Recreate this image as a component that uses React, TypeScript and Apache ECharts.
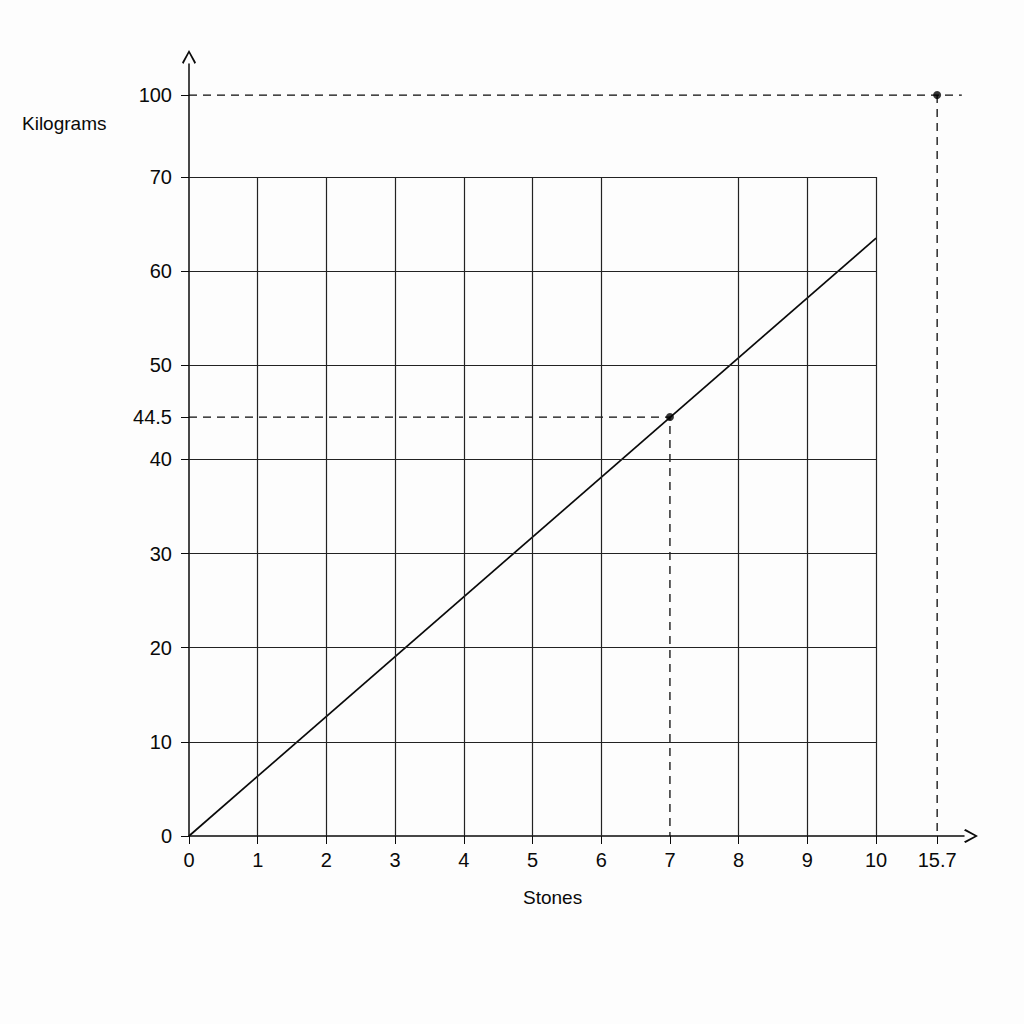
import { useEffect, useRef } from 'react';
import * as echarts from 'echarts';

// conversion line, stones -> kilograms
const STONES = [0, 10];
const KILOGRAMS = [0, 63.5];

// read-off points
const POINTS: [number, number][] = [
  [7, 44.5],
  [15.7, 100],
];

// tick labels
const X_TICKS = [0, 1, 2, 3, 4, 5, 6, 7, 8, 9, 10, 15.7];
const Y_TICKS = [0, 10, 20, 30, 40, 44.5, 50, 60, 70, 100];

// grid lines inside the box
const X_GRID = [1, 2, 3, 4, 5, 6, 8, 9, 10];
const Y_GRID = [10, 20, 30, 40, 50, 60, 70];

// end of the dashed 100 kg guide (in stones)
const GUIDE_END = 18;

// broken axes: values past the box are squeezed
const X_BREAK = 10;
const Y_BREAK = 70;
const X_SQUEEZE = 0.156;
const Y_SQUEEZE = 0.29;

const xPos = (v: number) => (v <= X_BREAK ? v : X_BREAK + (v - X_BREAK) * X_SQUEEZE);
const yPos = (v: number) => (v <= Y_BREAK ? v : Y_BREAK + (v - Y_BREAK) * Y_SQUEEZE);
const pt = (x: number, y: number) => [xPos(x), yPos(y)];

const INK = '#0a0a0a';
const FONT = "'Liberation Sans', Arial, sans-serif";
const ARROW = 'path://M5,0 L10,9 L9,10 L5,2.4 L1,10 L0,9 Z';

const xLabelPos = X_TICKS.map(xPos);
const yLabelPos = Y_TICKS.map(yPos);
const labelFor = (ticks: number[], pos: number[]) => (v: number) => {
  const i = pos.findIndex((p) => Math.abs(p - v) < 1e-6);
  return i >= 0 ? String(ticks[i]) : '';
};

function buildOption(): echarts.EChartsOption {
  const [xMin, xMax] = [0, X_BREAK];
  const [yMin, yMax] = [0, Y_BREAK];
  const gridLines = [
    ...X_GRID.map((x) => [{ coord: pt(x, yMin) }, { coord: pt(x, yMax) }]),
    ...Y_GRID.map((y) => [{ coord: pt(xMin, y) }, { coord: pt(xMax, y) }]),
  ];
  const [p1, p2] = POINTS;
  const dashed = { color: INK, width: 1.3, type: [8, 6] as number[] };
  return {
    animation: false,
    backgroundColor: '#fdfdfd',
    textStyle: { fontFamily: FONT },
    grid: { left: 189, right: 60, top: 64, bottom: 188 },
    xAxis: {
      type: 'value',
      min: 0,
      max: 11.28,
      splitLine: { show: false },
      axisLine: { lineStyle: { color: INK, width: 1.5 }, symbol: ['none', ARROW], symbolSize: [14, 15], symbolOffset: [0, 7] },
      axisTick: { show: true, inside: false, length: 8, customValues: xLabelPos, lineStyle: { color: INK } },
      axisLabel: { customValues: xLabelPos, formatter: labelFor(X_TICKS, xLabelPos), color: INK, fontSize: 20, margin: 14, fontFamily: FONT },
    },
    yAxis: {
      type: 'value',
      min: 0,
      max: 82,
      splitLine: { show: false },
      axisLine: { lineStyle: { color: INK, width: 1.5 }, symbol: ['none', ARROW], symbolSize: [14, 15], symbolOffset: [0, 7] },
      axisTick: { show: true, inside: false, length: 8, customValues: yLabelPos, lineStyle: { color: INK } },
      axisLabel: { customValues: yLabelPos, formatter: labelFor(Y_TICKS, yLabelPos), color: INK, fontSize: 20, margin: 17, fontFamily: FONT },
    },
    graphic: [
      { type: 'text', left: 22, top: 114, style: { text: 'Kilograms', fill: INK, font: `19px ${FONT}` } },
      { type: 'text', left: 523, top: 888, style: { text: 'Stones', fill: INK, font: `19px ${FONT}` } },
    ],
    series: [
      {
        type: 'line',
        data: [],
        silent: true,
        markLine: {
          silent: true,
          symbol: 'none',
          label: { show: false },
          lineStyle: { color: '#222', width: 1.2, type: 'solid' },
          data: gridLines as any,
        },
      },
      {
        type: 'line',
        data: STONES.map((s, i) => pt(s, KILOGRAMS[i])),
        symbol: 'none',
        lineStyle: { color: INK, width: 1.7 },
      },
      {
        type: 'line',
        data: [pt(0, p1[1]), pt(p1[0], p1[1]), pt(p1[0], 0)],
        symbol: 'none',
        lineStyle: dashed,
      },
      {
        type: 'line',
        data: [pt(0, p2[1]), pt(GUIDE_END, p2[1])],
        symbol: 'none',
        lineStyle: dashed,
      },
      {
        type: 'line',
        data: [pt(p2[0], p2[1]), pt(p2[0], 0)],
        symbol: 'none',
        lineStyle: dashed,
      },
      {
        type: 'scatter',
        data: POINTS.map(([x, y]) => pt(x, y)),
        symbolSize: 8,
        itemStyle: { color: '#000' },
        z: 5,
      },
    ],
  };
}

export default function App() {
  const ref = useRef<HTMLDivElement | null>(null);
  useEffect(() => {
    document.body.style.margin = '0';
    if (!ref.current) return;
    const chart = echarts.init(ref.current, undefined, { renderer: 'svg' });
    chart.setOption(buildOption());
    return () => chart.dispose();
  }, []);
  return <div ref={ref} style={{ width: 1024, height: 1024 }} />;
}
